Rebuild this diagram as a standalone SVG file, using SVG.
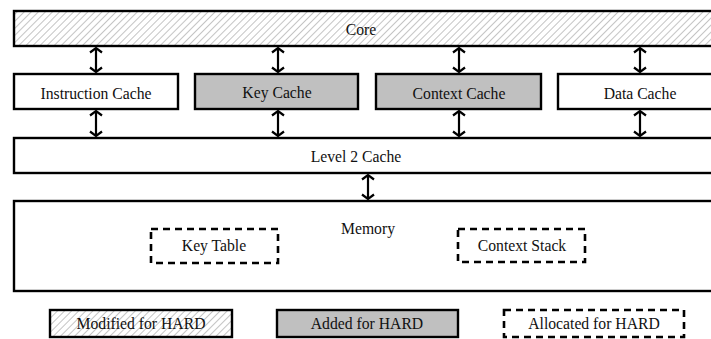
<svg xmlns="http://www.w3.org/2000/svg" width="711" height="339" viewBox="0 0 711 339">
  <defs>
    <pattern id="hatch" patternUnits="userSpaceOnUse" width="5" height="5" patternTransform="rotate(45)">
      <rect width="5" height="5" fill="#ffffff"/>
      <line x1="0" y1="0" x2="0" y2="5" stroke="#8a8a8a" stroke-width="1"/>
    </pattern>
    <marker id="head" viewBox="0 0 12 14" refX="11" refY="7" markerWidth="12" markerHeight="14" orient="auto-start-reverse" markerUnits="userSpaceOnUse">
      <path d="M6.5,1 L11,7 L6.5,13" fill="none" stroke="#000" stroke-width="2.2"/>
    </marker>
  </defs>
  <style>
    .box { stroke: #000; stroke-width: 2.4; }
    .plain { fill: #fff; }
    .hatched { fill: url(#hatch); }
    .added { fill: #c0c0c0; }
    .dashed { fill: none; stroke: #000; stroke-width: 2.6; stroke-dasharray: 7 5; }
    text { font-family: 'Liberation Serif', 'Times New Roman', serif; font-size: 15.7px; fill: #111; text-anchor: middle; dominant-baseline: central; }
    .link { stroke: #000; stroke-width: 2.2; fill: none; marker-start: url(#head); marker-end: url(#head); }
  </style>
  <rect width="711" height="339" fill="#fff"/>

  <g id="core">
    <rect class="box hatched" x="14" y="11" width="710" height="35"/>
    <text x="361" y="29">Core</text>
  </g>
  <g id="instruction-cache">
    <rect class="box plain" x="14" y="74" width="164" height="35"/>
    <text x="96" y="93">Instruction Cache</text>
  </g>
  <g id="key-cache">
    <rect class="box added" x="195" y="74" width="163" height="35"/>
    <text x="277" y="92">Key Cache</text>
  </g>
  <g id="context-cache">
    <rect class="box added" x="376" y="74" width="165" height="35"/>
    <text x="459" y="93">Context Cache</text>
  </g>
  <g id="data-cache">
    <rect class="box plain" x="558" y="74" width="166" height="35"/>
    <text x="640" y="93">Data Cache</text>
  </g>
  <g id="level2-cache">
    <rect class="box plain" x="14" y="138" width="710" height="35"/>
    <text x="356" y="156">Level 2 Cache</text>
  </g>
  <g id="memory">
    <rect class="box plain" x="14" y="201" width="710" height="90"/>
    <text x="368" y="228">Memory</text>
  </g>
  <g id="key-table">
    <rect class="dashed" x="151" y="229" width="127" height="34"/>
    <text x="214" y="245">Key Table</text>
  </g>
  <g id="context-stack">
    <rect class="dashed" x="458" y="229" width="127" height="33"/>
    <text x="522" y="245">Context Stack</text>
  </g>

  <g id="connectors">
    <line class="link" x1="96" y1="48" x2="96" y2="72"/>
    <line class="link" x1="278" y1="48" x2="278" y2="72"/>
    <line class="link" x1="459" y1="48" x2="459" y2="72"/>
    <line class="link" x1="640" y1="48" x2="640" y2="72"/>
    <line class="link" x1="96" y1="111" x2="96" y2="136"/>
    <line class="link" x1="278" y1="111" x2="278" y2="136"/>
    <line class="link" x1="459" y1="111" x2="459" y2="136"/>
    <line class="link" x1="640" y1="111" x2="640" y2="136"/>
    <line class="link" x1="368" y1="175" x2="368" y2="199"/>
  </g>

  <g id="legend">
    <g id="legend-modified">
      <rect class="box hatched" x="50" y="310" width="182" height="27"/>
      <text x="141" y="323">Modified for HARD</text>
    </g>
    <g id="legend-added">
      <rect class="box added" x="277" y="310" width="181" height="27"/>
      <text x="367" y="323">Added for HARD</text>
    </g>
    <g id="legend-allocated">
      <rect class="dashed" x="504" y="310" width="180" height="27"/>
      <text x="594" y="323">Allocated for HARD</text>
    </g>
  </g>
</svg>
